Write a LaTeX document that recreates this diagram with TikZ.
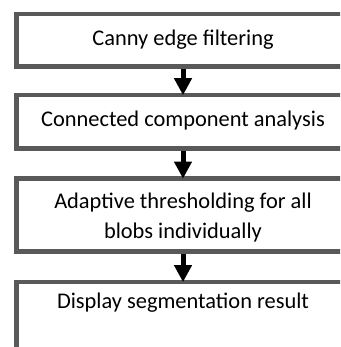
\documentclass[tikz,border=0pt]{standalone}
\usepackage{fontspec}
\setmainfont{Carlito}
\usetikzlibrary{arrows.meta}
\definecolor{boxgray}{RGB}{89,89,89}
\tikzset{
  stagebox/.style={draw=boxgray, line width=4.7pt, rectangle, inner sep=0pt,
    minimum width=332.6pt, fill=white},
  stagetext/.style={font=\fontsize{22.4}{30}\selectfont, align=center, inner sep=0pt},
  flowarrow/.style={line width=5pt, -{Triangle[width=17pt,length=17pt]}, shorten >=-2.6pt}
}
\begin{document}
\begin{tikzpicture}[x=1pt, y=-1pt]
  \useasboundingbox (0,0) rectangle (340,347);
  \clip (0,0) rectangle (340,347);
  % processing stages
  \node[stagebox, minimum height=52.9pt] (b1) at (183,40.4) {};
  \node[stagebox, minimum height=53.7pt] (b2) at (183,121.8) {};
  \node[stagebox, minimum height=72.9pt] (b3) at (183,214.8) {};
  \node[stagebox, minimum height=120pt, anchor=north] (b4) at (183,279.5) {};
  % stage labels
  \node[stagetext] (t1) at (183,40) {Canny edge filtering};
  \node[stagetext] (t2) at (183,120.5) {Connected component analysis};
  \node[stagetext] (t3) at (183,217.5) {Adaptive thresholding for all\\blobs individually};
  \node[stagetext] (t4) at (183,302.5) {Display segmentation result};
  % flow between stages
  \draw[flowarrow] (b1.south) -- (b2.north);
  \draw[flowarrow] (b2.south) -- (b3.north);
  \draw[flowarrow] (b3.south) -- (b4.north);
\end{tikzpicture}
\end{document}
